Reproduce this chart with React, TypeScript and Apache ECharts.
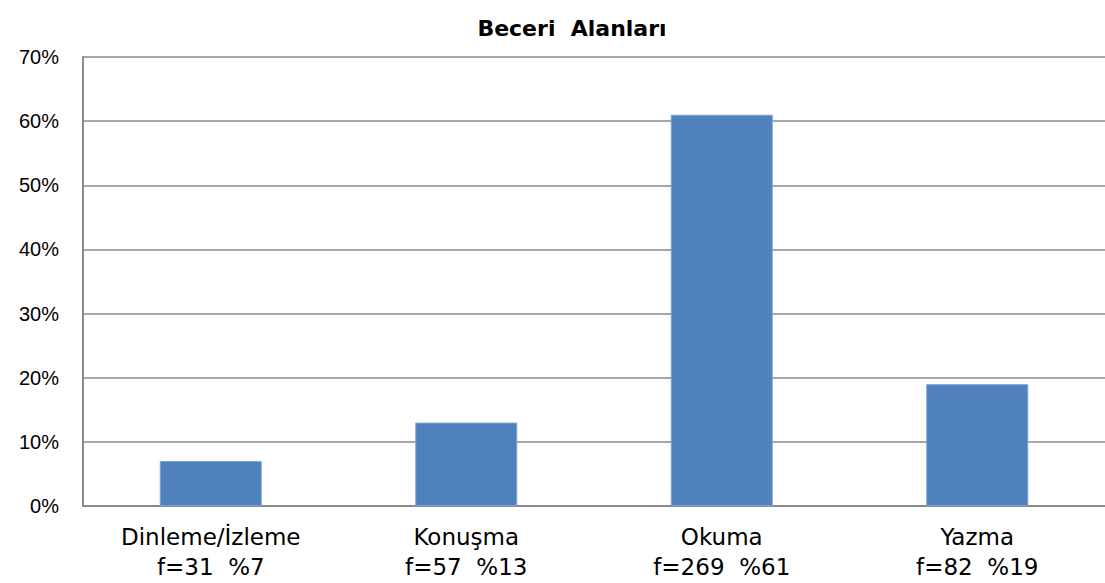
import React, { useEffect, useRef } from "react";
import * as echarts from "echarts";

const categories = ["Dinleme/İzleme", "Konuşma", "Okuma", "Yazma"];
const frequencies = [31, 57, 269, 82];
const percents = [7, 13, 61, 19];
const yTicks = [0, 10, 20, 30, 40, 50, 60, 70];
const titleText = "Beceri  Alanları";

export default function App() {
  const ref = useRef<HTMLDivElement>(null);
  useEffect(() => {
    if (!ref.current) return;
    const chart = echarts.init(ref.current, undefined, { renderer: "svg" });
    const labels = categories.map(
      (c, i) => `${c}\nf=${frequencies[i]}  %${percents[i]}`
    );
    chart.setOption({
      animation: false,
      backgroundColor: "#ffffff",
      title: {
        text: titleText,
        left: 567,
        top: 12,
        textAlign: "center",
        textStyle: {
          fontFamily: "DejaVu Sans",
          fontWeight: "bold",
          fontSize: 22,
          color: "#000000",
        },
      },
      grid: { left: 83, top: 57, width: 1025, height: 449, containLabel: false },
      xAxis: {
        type: "category",
        data: labels,
        axisLine: { show: true, lineStyle: { color: "#8a8a8a", width: 2 } },
        axisTick: { show: false },
        axisLabel: {
          interval: 0,
          margin: 16,
          fontFamily: "DejaVu Sans",
          fontSize: 23,
          lineHeight: 30,
          color: "#000000",
        },
      },
      yAxis: {
        type: "value",
        min: yTicks[0],
        max: yTicks[yTicks.length - 1],
        interval: 10,
        axisLine: { show: true, lineStyle: { color: "#8a8a8a", width: 2 } },
        axisTick: { show: false },
        splitLine: { show: true, lineStyle: { color: "#8a8a8a", width: 1.5 } },
        axisLabel: {
          formatter: "{value}%",
          margin: 24,
          fontFamily: "Liberation Sans",
          fontSize: 20,
          color: "#000000",
        },
      },
      series: [
        {
          type: "bar",
          data: percents,
          barWidth: 102,
          itemStyle: {
            color: "#4f81bd",
            borderColor: "#7ea3d2",
            borderWidth: 1,
          },
        },
      ],
    });
    return () => chart.dispose();
  }, []);
  return (
    <div
      ref={ref}
      style={{ position: "absolute", left: 0, top: 0, width: 1105, height: 583 }}
    />
  );
}
